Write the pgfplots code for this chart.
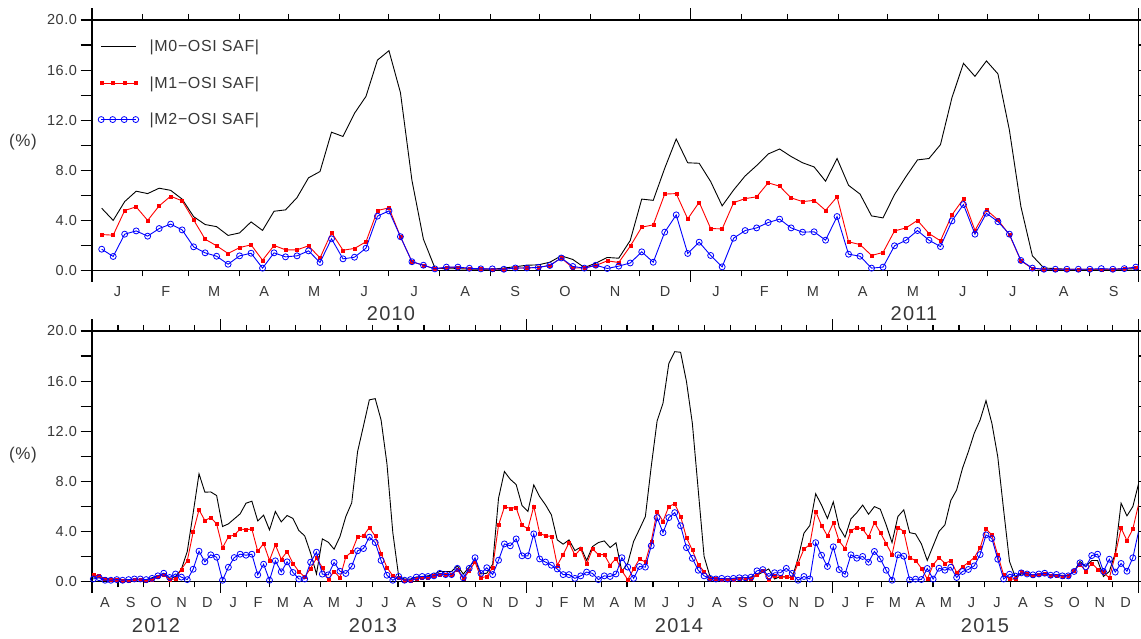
\documentclass[border=0pt]{standalone}
\usepackage{fontspec}
\setmainfont[LetterSpace=4]{Liberation Sans}
\newfontfamily\yearfont[LetterSpace=6]{Liberation Sans}
\usepackage{pgfplots}
\usepackage{pgfplotstable}
\pgfplotsset{compat=1.18}
\definecolor{txt}{gray}{0.22}
\pgfplotstableread{
i m0 m1 m2
0 4.97 2.87 1.7
1 4.0 2.82 1.12
2 5.5 4.79 2.9
3 6.33 5.08 3.16
4 6.14 4.0 2.74
5 6.57 5.16 3.35
6 6.4 5.93 3.7
7 5.7 5.56 3.24
8 4.3 4.04 1.89
9 3.67 2.5 1.41
10 3.5 1.97 1.14
11 2.8 1.36 0.5
12 3.0 1.83 1.17
13 3.88 2.05 1.38
14 3.2 0.82 0.19
15 4.73 2.0 1.41
16 4.84 1.65 1.09
17 5.82 1.65 1.17
18 7.4 1.97 1.57
19 7.9 1.0 0.64
20 11.04 3.03 2.53
21 10.7 1.62 0.93
22 12.55 1.76 1.06
23 13.9 2.29 1.78
24 16.8 4.79 4.34
25 17.55 5.0 4.76
26 14.2 2.7 2.7
27 7.2 0.7 0.7
28 2.5 0.42 0.42
29 0.2 0.13 0.13
30 0.13 0.25 0.27
31 0.15 0.25 0.27
32 0.1 0.15 0.18
33 0.1 0.15 0.13
34 0.1 0.1 0.13
35 0.2 0.1 0.1
36 0.3 0.2 0.2
37 0.42 0.2 0.2
38 0.45 0.25 0.25
39 0.66 0.4 0.4
40 1.17 1.0 1.0
41 0.88 0.2 0.32
42 0.24 0.2 0.19
43 0.58 0.4 0.42
44 1.04 0.77 0.16
45 0.98 0.64 0.35
46 2.4 1.94 0.6
47 5.7 3.46 1.49
48 5.6 3.64 0.66
49 8.16 6.1 3.06
50 10.5 6.14 4.44
51 8.6 4.12 1.36
52 8.56 5.45 2.26
53 7.1 3.35 1.2
54 5.16 3.32 0.29
55 6.43 5.42 2.58
56 7.55 5.74 3.19
57 8.38 5.88 3.4
58 9.3 7.0 3.83
59 9.7 6.73 4.1
60 9.1 5.8 3.4
61 8.6 5.5 3.06
62 8.27 5.6 3.09
63 7.13 4.8 2.42
64 8.94 5.88 4.31
65 6.8 2.29 1.3
66 6.1 2.07 1.14
67 4.36 1.2 0.19
68 4.2 1.44 0.27
69 6.06 3.16 1.97
70 7.5 3.4 2.42
71 8.83 4.0 3.19
72 8.94 2.95 2.42
73 10.05 2.37 1.91
74 13.8 4.44 3.96
75 16.54 5.72 5.27
76 15.5 3.2 2.9
77 16.73 4.84 4.57
78 15.7 4.04 3.9
79 11.2 2.85 2.9
80 5.1 0.77 0.8
81 1.17 0.16 0.19
82 0.2 0.1 0.1
83 0.15 0.1 0.1
84 0.1 0.1 0.1
85 0.1 0.1 0.1
86 0.1 0.1 0.1
87 0.1 0.1 0.15
88 0.1 0.1 0.1
89 0.1 0.15 0.15
90 0.15 0.24 0.27
}\toptable
\pgfplotstableread{
i m0 m1 m2
0 0.3 0.53 0.2
1 0.3 0.45 0.3
2 0.25 0.2 0.1
3 0.2 0.15 0.1
4 0.15 0.15 0.15
5 0.15 0.1 0.1
6 0.15 0.1 0.15
7 0.15 0.15 0.2
8 0.15 0.15 0.2
9 0.15 0.1 0.15
10 0.3 0.15 0.25
11 0.45 0.35 0.45
12 0.6 0.55 0.66
13 0.2 0.15 0.32
14 0.4 0.2 0.6
15 0.98 0.98 0.35
16 2.4 1.65 0.15
17 5.45 3.94 0.98
18 8.6 5.72 2.42
19 7.13 4.87 1.57
20 7.15 5.1 2.13
21 6.86 4.6 1.94
22 4.39 2.69 0.1
23 4.6 3.56 1.14
24 5.0 3.72 1.91
25 5.4 4.18 2.18
26 6.25 4.15 2.1
27 6.41 4.18 2.18
28 4.84 2.42 0.53
29 5.29 3.03 1.38
30 4.12 1.68 0.1
31 5.59 2.93 1.65
32 4.76 1.78 0.77
33 5.27 2.39 1.57
34 5.03 1.44 0.72
35 4.07 0.8 0.2
36 3.64 0.35 0.2
37 2.26 1.06 1.54
38 0.6 1.86 2.34
39 3.4 1.12 0.59
40 3.14 0.13 0.53
41 2.58 0.82 1.52
42 3.59 0.29 0.82
43 5.19 1.97 0.64
44 6.28 2.37 1.22
45 10.37 3.56 2.45
46 12.42 3.64 2.63
47 14.5 4.31 3.54
48 14.6 3.62 3.11
49 12.9 2.23 1.68
50 9.4 1.12 0.5
51 3.9 0.45 0.1
52 0.4 0.28 0.4
53 0.19 0.1 0.1
54 0.2 0.1 0.15
55 0.35 0.25 0.35
56 0.4 0.3 0.4
57 0.45 0.3 0.4
58 0.59 0.45 0.45
59 0.8 0.55 0.65
60 0.8 0.55 0.55
61 0.8 0.55 0.55
62 1.25 0.95 1.05
63 0.6 0.2 0.3
64 1.14 0.85 1.05
65 1.73 1.55 1.9
66 0.6 0.3 0.65
67 0.66 0.4 1.1
68 1.38 1.1 0.55
69 6.65 4.5 1.7
70 8.78 5.95 3.0
71 8.16 5.85 2.85
72 7.74 5.9 3.4
73 6.06 4.5 2.05
74 5.59 4.2 2.05
75 7.71 6.0 3.8
76 6.78 3.85 1.8
77 6.12 3.65 1.55
78 5.32 3.6 1.3
79 3.32 1.3 1.0
80 2.98 2.15 0.55
81 3.32 3.1 0.55
82 2.47 2.1 0.25
83 2.74 2.6 0.45
84 1.68 1.4 0.75
85 2.79 2.6 0.65
86 3.11 2.15 0.15
87 3.24 2.15 0.45
88 2.71 1.3 0.4
89 3.09 1.85 0.6
90 0.8 0.85 1.9
91 1.46 0.15 1.15
92 3.2 1.0 0.25
93 4.18 1.8 1.2
94 5.19 1.55 1.15
95 9.18 3.2 2.85
96 12.82 5.6 5.1
97 14.23 4.8 3.9
98 17.42 6.0 5.1
99 18.35 6.2 5.5
100 18.3 5.2 4.45
101 15.96 3.5 2.7
102 12.63 2.5 1.85
103 7.31 1.35 0.9
104 2.0 0.8 0.45
105 0.4 0.25 0.25
106 0.19 0.2 0.2
107 0.2 0.15 0.25
108 0.2 0.15 0.2
109 0.25 0.15 0.25
110 0.3 0.2 0.3
111 0.3 0.2 0.3
112 0.35 0.25 0.35
113 0.5 0.55 0.85
114 0.75 0.9 0.95
115 1.0 0.15 0.4
116 0.2 0.5 0.7
117 0.4 0.4 0.7
118 0.35 0.35 1.05
119 0.3 0.3 0.65
120 1.86 1.46 0.1
121 3.86 2.58 0.4
122 4.47 2.95 0.2
123 7.0 5.59 3.1
124 6.1 4.47 2.1
125 5.03 3.64 1.2
126 6.36 4.68 2.77
127 4.33 3.22 0.95
128 3.54 2.63 0.58
129 5.0 4.04 2.13
130 5.5 4.33 1.86
131 6.1 4.18 2.0
132 5.37 3.54 1.54
133 5.98 4.71 2.4
134 5.77 3.91 1.8
135 4.52 3.03 0.9
136 3.11 2.13 0.1
137 5.19 4.33 2.13
138 5.72 3.99 2.02
139 3.9 1.89 0.13
140 3.8 1.68 0.19
141 3.0 1.06 0.16
142 1.68 0.19 1.04
143 2.85 1.33 0.19
144 4.0 1.91 1.06
145 4.52 1.46 0.9
146 6.46 1.65 1.14
147 7.31 0.72 0.32
148 9.04 1.17 0.8
149 10.37 1.52 0.96
150 11.84 1.91 1.25
151 12.9 2.69 2.15
152 14.44 4.18 3.72
153 12.63 3.72 3.43
154 9.97 2.1 1.78
155 5.72 0.53 0.2
156 1.6 0.2 0.58
157 0.35 0.19 0.43
158 0.6 0.75 0.69
159 0.55 0.6 0.6
160 0.5 0.5 0.53
161 0.55 0.56 0.6
162 0.6 0.64 0.66
163 0.5 0.5 0.5
164 0.5 0.5 0.56
165 0.5 0.4 0.45
166 0.45 0.45 0.45
167 0.8 0.88 0.8
168 1.6 1.38 1.49
169 1.2 0.82 1.17
170 1.68 1.46 2.07
171 1.68 0.98 2.18
172 0.4 0.75 0.8
173 0.8 0.27 1.78
174 2.26 2.1 0.75
175 6.25 4.26 1.44
176 5.24 3.27 0.82
177 5.98 4.2 1.89
178 7.85 6.2 4.04
}\bottable
\pgfplotsset{
  panel/.style={
    scale only axis, width=1046.4pt, height=250.5pt,
    ymin=0, ymax=20, ytick={0,2,...,20},
    yticklabels={0.0,,4.0,,8.0,,12.0,,16.0,,20.0},
    tick align=outside, tick pos=both,
    major tick length=11.5pt, minor tick length=6pt,
    every tick/.style={black,line width=1.1pt},
    every minor tick/.style={black,line width=1.1pt},
    axis line style={line width=1.3pt},
    tick label style={font=\fontsize{14.5}{16}\selectfont,text=txt},
    xticklabels={},
    extra x tick style={major tick length=0pt, xticklabel style={yshift=-12.5pt}},
    clip mode=individual,
  },
  m0/.style={black,line width=0.9pt,mark=none},
  m1/.style={red,line width=0.9pt,mark=square*,mark size=1.5pt,mark options={fill=red,solid,line width=0.4pt}},
  m2/.style={blue,line width=0.9pt,mark=o,mark size=3pt,mark options={solid,line width=0.8pt}},
}
\newcommand{\yr}[1]{{\fontsize{20}{22}\selectfont\yearfont\textcolor{txt}{#1}}}
\begin{document}
\begin{tikzpicture}
\useasboundingbox (0pt,0pt) rectangle (1141pt,639pt);
\begin{axis}[panel, at={(92pt,368.5pt)}, anchor=south west,
  xmin=92, xmax=1138.4,
  xtick={92,690.6,1138.3},
  minor xtick={142.8,188.8,239.6,288.8,339.6,388.8,439.7,490.5,539.7,590.6,639.8,741.4,787.4,838.2,887.4,938.2,987.4,1038.2,1089.1},
  extra x ticks={117.4,165.8,214.2,264.2,314.2,364.2,414.2,465.1,515.1,565.1,615.2,665.2,716,764.4,812.8,862.8,912.8,962.8,1012.8,1063.6,1113.7},
  extra x tick labels={J,F,M,A,M,J,J,A,S,O,N,D,J,F,M,A,M,J,J,A,S},
  legend style={at={(axis cs:98,19.55)},anchor=north west,draw=none,fill=none,
    font=\fontsize{16}{18}\selectfont,row sep=19.5pt,
    inner xsep=0pt,inner ysep=12pt,
    nodes={text=txt,inner xsep=11pt}},
  legend cell align=left,
  legend image code/.code={\draw[mark repeat=1,#1] plot coordinates {(0pt,0pt)(11.5pt,0pt)(23pt,0pt)(34.5pt,0pt)};},
]
\addplot[m0] table[x expr=\thisrow{i}*11.49+101.7,y=m0]{\toptable};
\addlegendentry{|M0−OSI SAF|}
\addplot[m1] table[x expr=\thisrow{i}*11.49+101.7,y=m1]{\toptable};
\addlegendentry{|M1−OSI SAF|}
\addplot[m2] table[x expr=\thisrow{i}*11.49+101.7,y=m2]{\toptable};
\addlegendentry{|M2−OSI SAF|}
\node[font=\fontsize{17}{18}\selectfont,text=txt] at (axis cs:23,10.28) {(\%)};
\node at (axis cs:391,-3.42) {\yr{2010}};
\node at (axis cs:914,-3.42) {\yr{2011}};
\end{axis}
\begin{axis}[panel, at={(92pt,57.5pt)}, anchor=south west,
  xmin=92, xmax=1138.4,
  xtick={92,220.3,526.3,832.4,1138.4},
  minor xtick={118,143.2,169.1,194.3,246.3,269.8,295.8,320.9,346.9,372.1,398,424,449.2,475.2,500.4,552.3,575.8,601.8,627,653,678.1,704.1,730.1,755.3,781.3,806.4,858.4,881.9,907.9,933,959,984.2,1010.1,1036.1,1061.3,1087.3,1112.5},
  extra x ticks={105,130.6,156.1,181.7,207.3,233.3,258,282.8,308.3,333.9,359.5,385,411,436.6,462.2,487.8,513.4,539.3,564,588.8,614.4,640,665.5,691,717,742.7,768.3,793.8,819.4,845.4,870.1,894.9,920.4,946,971.6,997.1,1023,1048.7,1074.3,1099.9,1125.5},
  extra x tick labels={A,S,O,N,D,J,F,M,A,M,J,J,A,S,O,N,D,J,F,M,A,M,J,J,A,S,O,N,D,J,F,M,A,M,J,J,A,S,O,N,D},
]
\addplot[m0] table[x expr=\thisrow{i}*5.873+93.3,y=m0]{\bottable};
\addplot[m1] table[x expr=\thisrow{i}*5.873+93.3,y=m1]{\bottable};
\addplot[m2] table[x expr=\thisrow{i}*5.873+93.3,y=m2]{\bottable};
\node[font=\fontsize{17}{18}\selectfont,text=txt] at (axis cs:23,10.12) {(\%)};
\node at (axis cs:156,-3.55) {\yr{2012}};
\node at (axis cs:373,-3.55) {\yr{2013}};
\node at (axis cs:679,-3.55) {\yr{2014}};
\node at (axis cs:985,-3.55) {\yr{2015}};
\end{axis}
\end{tikzpicture}
\end{document}
